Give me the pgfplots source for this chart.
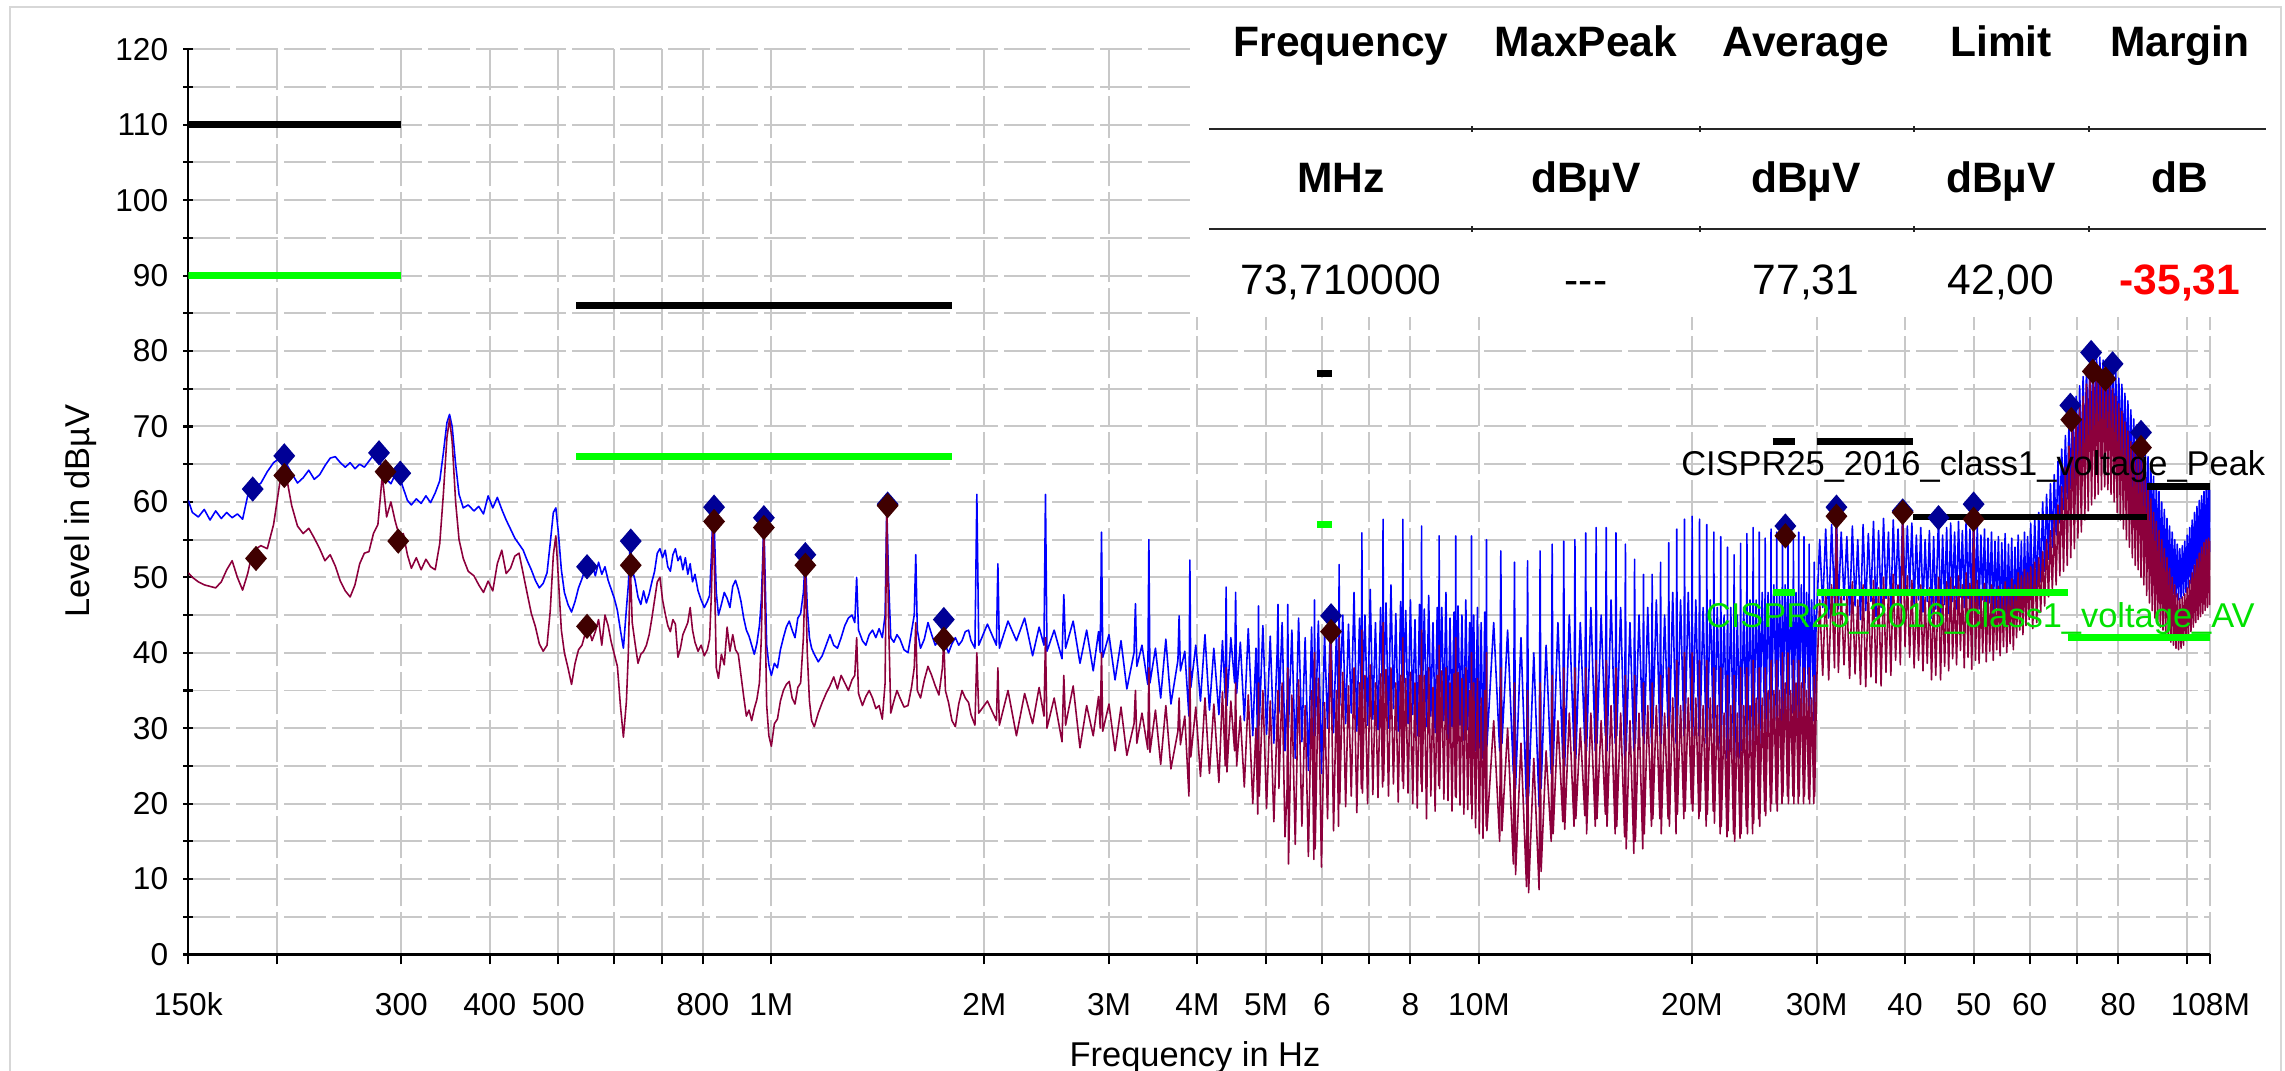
\documentclass[border=0pt]{standalone}
\usepackage{fontspec}
\setmainfont{Liberation Sans}
\usepackage{pgfplots}
\usepackage{pgfplotstable}
\pgfplotsset{compat=1.18}
\definecolor{trblue}{RGB}{0,0,255}
\definecolor{trred}{RGB}{140,0,60}
\definecolor{mkblue}{RGB}{0,0,150}
\definecolor{mkred}{RGB}{64,0,0}
\definecolor{limgreen}{RGB}{0,255,0}
\definecolor{txtgreen}{RGB}{0,225,0}
\definecolor{gridgray}{RGB}{200,200,200}
\definecolor{framegray}{RGB}{215,215,215}
\definecolor{margred}{RGB}{255,0,0}
\newcommand{\ticksize}{\fontsize{9pt}{10pt}\selectfont}
\newcommand{\labsize}{\fontsize{9.8pt}{11pt}\selectfont}
\newcommand{\tabsize}{\fontsize{12.1pt}{14pt}\selectfont}

\pgfplotstableread{
f pk av
0.150 60.2 50.6
0.152 58.6 50.0
0.155 58.0 49.4
0.158 59.0 49.0
0.161 57.6 48.8
0.164 58.8 48.6
0.167 57.8 49.4
0.170 58.6 51.0
0.173 57.9 52.2
0.176 58.4 50.0
0.179 57.7 48.3
0.182 60.8 50.5
0.185 61.6 53.5
0.190 62.5 54.2
0.194 64.0 53.8
0.198 65.2 57.0
0.202 65.8 62.5
0.206 65.2 63.8
0.210 63.8 59.5
0.214 62.5 56.8
0.218 63.2 55.8
0.222 64.2 56.5
0.226 63.0 55.2
0.230 63.6 53.8
0.234 64.8 52.2
0.238 65.8 53.0
0.242 66.0 51.5
0.246 65.2 49.5
0.250 64.6 48.2
0.254 65.2 47.4
0.258 64.4 49.0
0.262 65.0 51.8
0.266 64.6 53.2
0.270 65.4 53.4
0.274 66.2 55.8
0.278 66.0 57.0
0.282 64.5 63.5
0.286 63.0 58.0
0.290 62.4 60.0
0.294 63.6 57.5
0.298 63.4 55.5
0.302 61.8 55.8
0.306 60.2 53.0
0.310 59.6 51.2
0.315 60.4 52.6
0.320 59.8 51.0
0.325 60.8 52.4
0.330 59.9 51.4
0.335 61.2 51.0
0.340 62.8 54.5
0.344 66.5 61.0
0.348 70.5 68.5
0.351 71.6 71.0
0.354 70.0 68.0
0.358 65.0 60.0
0.362 61.0 55.0
0.367 59.2 52.5
0.373 59.6 50.8
0.380 58.8 50.2
0.386 59.4 49.0
0.392 58.4 48.0
0.398 60.8 49.5
0.404 59.2 48.2
0.410 60.6 51.8
0.416 59.0 53.6
0.422 57.6 50.5
0.428 56.4 51.2
0.434 55.2 52.8
0.440 54.4 53.2
0.446 53.6 50.5
0.452 52.2 47.8
0.458 51.0 45.2
0.464 49.6 43.5
0.470 48.6 41.2
0.476 49.2 40.2
0.482 50.6 41.0
0.487 54.5 45.5
0.492 58.6 53.0
0.496 59.2 55.5
0.500 56.0 50.0
0.505 51.0 43.0
0.510 48.0 40.0
0.516 46.4 38.0
0.522 45.4 35.8
0.528 46.8 38.6
0.534 48.6 40.4
0.540 49.8 41.0
0.546 51.2 42.6
0.552 50.6 43.2
0.558 51.8 41.6
0.564 50.2 42.8
0.570 52.0 44.4
0.576 50.4 41.0
0.582 51.4 45.0
0.588 49.6 43.6
0.594 48.4 41.4
0.600 47.2 39.8
0.606 45.6 38.2
0.612 43.0 33.0
0.618 40.6 28.8
0.624 45.8 33.5
0.628 49.0 40.0
0.632 55.0 51.6
0.636 51.0 44.0
0.642 49.6 41.2
0.648 47.4 38.6
0.654 46.4 39.8
0.660 48.2 40.2
0.666 46.6 41.0
0.672 47.8 42.4
0.678 49.4 44.6
0.684 50.8 47.0
0.690 53.2 49.4
0.696 53.8 50.0
0.702 52.6 47.0
0.708 53.6 45.2
0.714 51.4 43.6
0.720 50.8 42.8
0.726 53.0 44.4
0.732 53.8 43.8
0.738 52.2 39.4
0.744 52.8 40.6
0.750 51.0 42.4
0.756 52.6 43.2
0.762 50.4 44.0
0.768 51.8 46.0
0.774 49.4 43.0
0.780 50.4 41.4
0.788 48.2 40.2
0.796 47.0 41.0
0.804 46.0 39.6
0.812 46.8 40.4
0.818 47.6 41.8
0.823 53.0 48.0
0.827 59.2 57.2
0.831 56.0 51.0
0.836 48.0 38.0
0.842 45.0 36.6
0.850 46.4 39.8
0.858 48.0 38.4
0.866 47.2 43.4
0.874 46.0 40.2
0.882 48.8 42.4
0.890 49.6 40.4
0.898 48.4 39.8
0.906 46.8 37.0
0.914 44.6 34.2
0.922 43.0 31.6
0.930 42.2 32.4
0.938 41.0 31.0
0.946 39.8 32.6
0.954 41.2 33.8
0.962 43.6 36.0
0.968 47.0 42.0
0.972 52.0 50.0
0.976 57.8 56.4
0.980 50.0 45.0
0.985 41.0 33.0
0.992 38.4 29.0
1.000 37.0 27.6
1.010 38.6 30.6
1.020 38.0 31.2
1.030 40.4 33.6
1.040 42.0 35.0
1.050 43.4 35.8
1.060 44.2 36.2
1.070 43.0 34.0
1.080 42.0 33.2
1.090 44.6 35.4
1.100 45.2 36.0
1.110 48.0 42.0
1.117 53.0 51.4
1.124 46.0 40.0
1.132 42.0 33.6
1.140 40.6 31.0
1.150 39.8 30.2
1.165 38.8 32.0
1.180 39.6 33.4
1.195 41.0 34.6
1.210 42.4 35.6
1.225 41.0 36.8
1.240 40.6 35.2
1.255 42.0 37.0
1.270 43.6 36.0
1.285 44.6 35.0
1.300 45.0 36.4
1.312 44.0 37.0
1.320 50.0 42.0
1.328 43.0 34.6
1.345 41.6 33.0
1.360 41.0 34.2
1.375 42.4 35.0
1.390 43.0 34.0
1.405 42.0 32.6
1.420 43.2 33.0
1.435 42.0 31.2
1.448 45.0 36.0
1.456 59.6 59.4
1.464 50.0 45.0
1.475 42.0 32.0
1.490 41.4 33.6
1.505 42.4 35.0
1.520 41.8 34.0
1.540 40.4 32.8
1.560 40.0 33.0
1.578 42.8 35.4
1.592 45.0 38.0
1.600 53.0 44.0
1.608 43.0 35.0
1.625 40.6 34.0
1.645 41.8 36.4
1.665 44.0 38.2
1.685 42.4 37.0
1.705 41.0 35.6
1.725 41.8 34.4
1.745 43.4 38.0
1.753 44.4 41.8
1.762 41.0 35.0
1.780 40.0 33.4
1.800 41.2 31.0
1.820 42.0 30.2
1.840 41.0 33.2
1.860 41.6 35.0
1.880 42.8 34.0
1.900 43.0 33.4
1.915 41.6 31.8
1.940 40.6 30.4
1.952 61.0 40.0
1.964 41.0 32.0
2.020 43.8 33.6
2.080 41.0 31.0
2.090 51.8 38.0
2.100 40.6 30.4
2.160 44.2 35.0
2.220 41.6 29.0
2.280 44.6 34.6
2.340 39.6 30.6
2.390 43.4 35.4
2.428 41.0 31.6
2.440 61.0 42.0
2.452 40.2 30.0
2.510 43.0 34.0
2.575 39.2 28.2
2.590 47.7 37.0
2.605 40.6 30.4
2.670 44.2 35.6
2.730 38.6 27.4
2.790 43.0 33.0
2.850 37.6 29.0
2.900 42.8 34.2
2.916 40.0 30.0
2.928 56.0 40.0
2.940 39.4 29.6
3.000 42.4 33.2
3.060 36.4 27.0
3.120 41.6 32.8
3.180 35.2 26.4
3.255 40.0 30.6
3.270 46.5 35.0
3.285 38.2 28.0
3.340 41.0 32.0
3.404 35.8 27.2
3.416 55.0 38.0
3.428 36.0 26.8
3.490 40.6 32.4
3.550 34.0 25.2
3.610 41.8 33.0
3.670 33.2 24.6
3.755 39.0 29.6
3.770 44.9 34.0
3.785 37.6 27.8
3.840 40.2 31.6
3.892 31.6 21.0
3.904 52.3 38.0
3.916 35.4 26.2
3.980 41.0 32.8
4.040 33.6 23.6
4.100 42.4 34.0
4.160 32.4 24.0
4.220 40.6 33.2
4.290 31.8 22.8
4.340 41.6 34.8
4.380 34.0 25.0
4.392 48.7 38.0
4.404 33.0 24.2
4.460 42.0 33.6
4.515 36.0 27.0
4.530 48.0 36.0
4.545 34.6 25.0
4.600 41.4 31.6
4.660 31.0 22.2
4.720 43.2 34.4
4.790 29.0 20.0
4.840 40.6 30.0
4.868 26.0 18.6
4.880 46.2 36.0
4.892 30.4 21.0
4.950 43.6 35.0
5.010 29.2 19.4
5.070 42.2 33.6
5.130 28.0 17.6
5.185 40.0 31.0
5.200 46.4 35.0
5.215 32.0 22.0
5.270 44.0 36.0
5.320 27.0 15.6
5.356 34.0 22.0
5.368 46.4 38.0
5.380 30.0 12.0
5.440 43.0 34.4
5.500 26.0 14.6
5.560 44.6 36.4
5.620 28.2 17.0
5.680 42.0 33.0
5.740 24.4 13.0
5.800 43.4 35.0
5.844 26.8 12.6
5.856 47.0 40.0
5.868 29.0 14.0
5.930 44.2 36.6
5.990 24.0 11.6
6.050 42.6 33.4
6.110 30.0 18.0
6.170 44.9 42.6
6.230 29.4 16.4
6.290 43.0 35.0
6.332 31.0 17.0
6.344 51.7 42.0
6.356 33.0 20.0
6.420 45.0 37.4
6.480 30.6 19.6
6.540 43.8 35.6
6.600 32.0 21.0
6.660 48.0 38.0
6.720 29.6 18.8
6.780 44.6 36.0
6.820 33.0 22.0
6.832 55.9 43.0
6.844 32.6 21.4
6.900 45.0 37.0
6.960 30.4 20.0
7.020 48.4 38.4
7.080 31.2 21.2
7.140 44.0 36.0
7.200 29.8 20.8
7.260 46.0 37.2
7.308 33.4 22.2
7.320 57.7 44.0
7.332 34.0 23.0
7.390 46.6 37.8
7.450 30.0 21.0
7.510 49.0 38.0
7.570 32.6 22.6
7.630 45.2 36.0
7.690 29.6 20.2
7.750 46.8 37.0
7.796 34.0 23.0
7.808 57.7 42.0
7.820 33.0 22.0
7.880 45.6 36.6
7.940 30.6 21.4
8.000 47.0 37.4
8.060 31.8 20.0
8.120 44.4 36.0
8.180 29.0 19.4
8.240 46.4 37.0
8.284 33.2 22.6
8.296 56.8 43.0
8.308 32.0 21.6
8.370 45.8 37.0
8.430 30.2 18.0
8.490 47.6 38.0
8.550 31.6 21.0
8.610 44.0 35.4
8.670 29.4 19.0
8.730 46.0 37.0
8.772 33.0 22.4
8.784 55.5 41.0
8.796 32.4 22.0
8.860 46.0 37.6
8.920 31.0 20.6
8.980 48.0 38.0
9.040 28.6 20.4
9.100 44.6 36.0
9.160 30.2 19.0
9.220 45.4 37.2
9.260 32.0 21.0
9.272 55.5 42.0
9.284 31.0 20.8
9.340 46.2 37.4
9.400 30.4 19.8
9.460 45.0 36.6
9.520 28.4 18.6
9.580 47.0 38.0
9.640 29.8 19.2
9.700 44.0 35.0
9.748 30.6 20.0
9.760 55.5 40.0
9.772 29.0 18.0
9.830 45.0 36.0
9.890 27.0 16.8
9.950 46.0 36.6
10.010 27.4 16.0
10.070 44.0 34.0
10.130 26.0 15.4
10.190 45.4 35.0
10.236 28.0 17.0
10.248 55.0 40.0
10.260 27.6 16.4
10.490 44.0 31.0
10.696 27.0 15.0
10.736 53.5 38.0
10.776 28.0 16.4
10.976 43.0 30.0
11.184 24.0 12.0
11.224 52.0 36.0
11.264 22.0 10.6
11.464 42.0 28.0
11.672 20.0 9.0
11.712 52.2 35.0
11.752 21.0 8.2
11.952 40.0 26.0
12.160 19.6 8.6
12.200 53.5 36.0
12.240 22.0 11.0
12.440 41.0 27.0
12.648 24.0 15.0
12.688 54.4 37.0
12.728 25.0 16.0
12.928 44.0 31.0
13.136 26.0 17.6
13.176 54.8 38.0
13.216 25.0 16.6
13.416 45.0 32.0
13.624 27.0 17.0
13.664 55.0 38.0
13.704 26.0 18.0
13.904 44.0 30.0
14.112 28.0 18.4
14.152 55.9 38.0
14.192 27.0 16.0
14.392 46.0 32.0
14.600 27.0 17.0
14.640 56.6 39.0
14.680 28.0 18.0
14.880 45.0 31.0
15.088 29.0 18.6
15.128 56.6 39.0
15.168 27.0 17.0
15.368 47.0 33.0
15.576 28.0 16.0
15.616 55.9 38.0
15.656 29.0 17.0
15.856 46.0 32.0
16.064 26.0 15.6
16.104 54.4 37.0
16.144 27.0 14.0
16.344 44.0 31.0
16.552 27.0 13.4
16.592 52.4 37.0
16.632 28.0 15.0
16.832 45.0 32.0
17.040 29.0 14.0
17.080 50.4 36.0
17.120 28.0 16.0
17.320 46.0 33.0
17.528 28.0 17.0
17.568 50.4 36.0
17.608 30.0 18.0
17.808 47.0 33.0
18.016 29.0 18.0
18.056 52.0 37.0
18.096 28.0 16.0
18.296 45.0 32.0
18.504 30.0 18.0
18.544 54.6 38.0
18.584 29.0 17.0
18.784 48.0 34.0
18.992 28.0 16.0
19.032 56.4 39.0
19.072 30.0 18.6
19.272 47.0 33.0
19.480 29.0 18.0
19.520 57.7 40.0
19.560 30.0 19.0
19.760 48.0 34.0
19.968 30.0 20.0
20.008 58.1 40.0
20.048 29.0 19.0
20.248 47.0 34.0
20.456 29.0 18.0
20.496 57.7 39.0
20.536 30.0 19.0
20.736 46.0 33.0
20.944 28.0 17.0
20.984 57.0 39.0
21.024 29.0 18.6
21.224 47.0 34.0
21.432 30.0 19.0
21.472 56.0 38.0
21.512 28.0 17.4
21.712 46.0 33.0
21.920 27.0 16.0
21.960 55.4 38.0
22.000 28.0 17.0
22.200 45.0 32.0
22.408 26.0 15.6
22.448 54.0 37.0
22.488 27.0 16.4
22.688 46.0 33.0
22.896 27.0 16.0
22.936 53.0 37.0
22.976 26.0 15.0
23.176 45.0 32.0
23.384 26.0 15.4
23.424 54.5 38.0
23.464 27.0 16.0
23.664 46.0 33.0
23.872 28.0 17.0
23.912 55.8 38.0
23.952 27.0 16.0
24.152 47.0 33.0
24.360 27.0 16.0
24.400 56.6 39.0
24.440 28.0 17.4
24.640 47.0 34.0
24.848 29.0 18.0
24.888 56.0 38.0
24.928 28.0 17.0
25.128 48.0 34.0
25.336 30.0 19.0
25.376 55.2 38.0
25.416 29.0 18.4
25.616 48.0 35.0
25.824 30.0 19.0
25.864 56.4 39.0
25.904 31.0 20.0
26.104 49.0 35.0
26.312 31.0 20.0
26.352 56.0 39.0
26.392 30.0 19.0
26.592 48.0 35.0
26.800 30.0 20.0
26.840 56.8 40.0
26.880 31.0 21.0
27.080 49.0 36.0
27.288 31.0 21.0
27.328 56.8 40.0
27.368 30.0 20.0
27.568 48.0 35.0
27.776 32.0 21.0
27.816 55.6 39.0
27.856 31.0 20.0
28.056 48.0 36.0
28.264 31.0 20.0
28.304 56.0 39.0
28.344 32.0 21.0
28.544 49.0 36.0
28.752 31.0 20.0
28.792 55.4 38.0
28.832 32.0 21.0
29.032 48.0 35.0
29.240 32.0 20.6
29.280 54.4 38.0
29.320 31.0 20.0
29.520 47.0 34.0
29.728 31.0 20.0
29.768 52.0 37.0
29.808 32.0 21.0
29.960 45.0 33.0
30.000 45.0 36.0
30.300 55.0 47.0
30.600 46.0 37.0
30.900 56.4 48.4
31.200 44.6 36.4
31.500 57.0 49.0
31.800 46.4 38.0
32.000 59.3 58.1
32.200 45.8 37.4
32.500 56.0 48.0
32.800 47.0 38.4
33.100 55.4 47.6
33.400 45.0 36.6
33.700 56.8 49.4
34.000 46.2 37.2
34.300 55.0 47.0
34.600 44.4 35.8
34.900 57.0 49.0
35.200 45.6 35.5
35.500 55.8 48.2
35.800 46.8 36.8
36.100 57.4 49.6
36.400 44.8 36.0
36.700 56.2 48.6
37.000 46.0 35.6
37.300 57.8 50.0
37.600 47.2 37.4
37.900 56.0 48.4
38.200 45.4 37.0
38.500 57.6 50.4
38.800 47.8 39.0
39.100 56.4 49.0
39.400 46.6 38.4
39.700 58.8 58.6
40.000 47.6 40.8
40.300 56.8 50.2
40.600 48.4 39.4
40.900 57.2 49.6
41.200 46.2 38.0
41.500 55.6 48.0
41.800 47.0 39.0
42.100 56.6 49.0
42.400 45.4 37.6
42.700 55.0 47.4
43.000 46.8 38.6
43.300 56.2 48.6
43.600 44.6 36.4
43.900 55.4 47.8
44.200 45.8 37.0
44.600 57.9 50.0
44.900 44.0 36.4
45.200 55.6 48.2
45.500 46.4 38.2
45.800 56.6 49.4
46.100 45.2 37.6
46.400 57.2 50.0
46.700 46.8 39.2
47.000 56.0 48.8
47.300 45.8 38.4
47.600 57.4 50.2
47.900 47.4 40.3
48.200 56.2 49.0
48.500 46.0 38.0
48.800 57.8 50.6
49.100 47.2 39.4
49.400 56.4 49.2
49.700 45.6 37.8
50.000 59.7 57.7
50.300 46.4 39.0
50.600 56.8 49.6
50.900 45.8 38.6
51.200 55.6 48.4
51.500 47.0 40.0
51.800 56.4 49.2
52.100 45.4 38.8
52.400 55.2 48.0
52.700 46.6 40.2
53.000 56.0 49.0
53.300 44.8 39.0
53.600 54.8 48.2
53.900 46.0 40.4
54.200 55.4 48.8
54.500 44.2 39.6
54.800 54.6 48.0
55.100 45.4 40.8
55.400 55.8 49.4
55.700 43.6 40.0
56.000 54.4 48.6
56.300 44.8 41.2
56.600 55.2 49.8
56.900 43.0 40.4
57.200 54.0 49.0
57.500 44.4 42.0
57.800 55.6 50.6
58.100 45.0 43.0
58.400 54.8 50.2
58.700 44.2 42.4
59.000 56.0 51.0
59.300 45.6 43.6
59.600 55.4 50.6
59.900 46.4 44.4
60.200 57.2 51.4
60.600 46.4 43.2
61.000 58.0 52.0
61.400 47.6 44.0
61.800 58.6 52.6
62.200 49.4 45.4
62.600 60.0 53.4
63.000 50.8 46.2
63.400 61.0 55.0
63.800 52.4 47.4
64.200 62.4 56.2
64.600 54.0 48.4
65.000 63.6 57.6
65.400 55.6 49.0
65.800 65.4 59.6
66.200 57.2 50.2
66.600 67.0 62.0
67.000 59.0 50.8
67.400 68.8 64.6
67.800 60.4 51.6
68.200 70.6 67.4
68.600 61.8 52.6
69.000 72.6 70.0
69.400 62.8 53.8
69.800 74.0 71.6
70.200 64.2 55.2
70.600 75.4 72.8
71.000 65.0 56.0
71.400 76.6 74.0
71.800 66.4 57.6
72.200 77.8 75.6
72.600 67.6 58.8
73.000 79.0 76.6
73.400 68.4 59.6
73.800 79.6 77.2
74.200 69.2 60.4
74.600 79.4 77.0
75.000 70.0 61.0
75.400 79.2 76.8
75.800 70.4 61.6
76.200 78.8 76.4
76.600 70.2 62.0
77.000 78.6 76.0
77.400 69.8 61.6
77.800 78.4 75.4
78.200 69.4 61.0
78.600 78.0 75.0
79.000 68.6 60.0
79.400 77.2 74.0
79.800 67.6 58.6
80.200 76.4 73.0
80.600 66.6 57.6
81.000 75.6 72.0
81.400 65.2 56.4
81.800 74.4 70.6
82.200 64.0 55.0
82.600 73.4 69.4
83.000 62.8 54.0
83.400 72.2 68.0
83.800 61.6 52.6
84.200 71.0 67.0
84.600 60.4 51.6
85.000 70.2 66.6
85.400 59.4 51.0
85.800 69.4 66.8
86.200 58.0 50.0
86.600 68.6 65.6
87.000 56.8 49.0
87.400 67.0 63.6
87.800 55.4 47.6
88.200 66.0 62.0
88.600 54.2 46.6
89.000 64.8 60.4
89.400 53.0 45.6
89.800 63.4 58.6
90.200 52.2 44.6
90.600 62.4 57.4
91.000 51.4 44.0
91.400 61.4 56.2
91.800 50.6 43.4
92.200 60.0 55.0
92.600 50.0 43.0
93.000 59.0 53.8
93.400 49.4 42.4
93.800 57.8 52.6
94.200 48.8 41.8
94.600 56.8 51.2
95.000 48.2 41.4
95.400 56.0 50.0
95.800 47.8 41.0
96.200 55.0 49.0
96.600 47.4 40.6
97.000 54.4 47.8
97.400 47.0 40.4
97.800 53.8 47.2
98.200 47.2 40.6
98.600 54.2 47.4
99.000 47.6 41.0
99.400 54.8 47.8
99.800 48.0 41.6
100.200 55.6 48.6
100.600 48.6 42.2
101.000 56.6 49.6
101.400 49.2 42.8
101.800 57.6 50.6
102.200 49.8 43.4
102.600 58.6 51.6
103.000 50.4 44.0
103.400 59.4 52.4
103.800 51.0 44.4
104.200 60.2 53.2
104.600 51.4 44.8
105.000 60.8 54.0
105.400 51.8 45.2
105.800 61.4 54.6
106.200 52.2 45.6
106.600 61.8 55.0
107.000 52.8 46.0
107.400 62.2 55.2
107.800 53.4 46.4
108.000 61.6 54.8
}\trace

\pgfplotstableread{
f y
0.185 61.7
0.205 66.1
0.279 66.5
0.299 63.8
0.549 51.4
0.633 54.8
0.830 59.3
0.976 57.9
1.117 53.0
1.460 59.7
1.753 44.4
6.180 44.9
27.10 56.8
32.00 59.3
39.70 58.8
44.60 57.9
50.00 59.7
68.50 72.8
73.30 79.8
78.60 78.3
86.20 69.2
}\pkmarks

\pgfplotstableread{
f y
0.187 52.5
0.205 63.5
0.285 64.0
0.297 54.8
0.549 43.5
0.633 51.6
0.830 57.4
0.976 56.6
1.117 51.6
1.460 59.5
1.753 41.8
6.180 42.8
27.10 55.5
32.00 58.1
39.70 58.6
50.00 57.7
68.70 70.9
73.71 77.3
76.80 76.3
86.20 67.2
}\avmarks

\begin{document}
\begin{tikzpicture}
\useasboundingbox (0,0) rectangle (22.85,10.71);
\begin{axis}[
  at={(1.883cm,1.165cm)}, anchor=south west,
  scale only axis, width=20.22cm, height=9.052cm,
  xmode=log, xmin=0.15, xmax=108, ymin=0, ymax=120,
  axis lines*=left,
  axis line style={black, line width=0.6pt},
  xtick={0.15,0.2,0.3,0.4,0.5,0.6,0.7,0.8,1,2,3,4,5,6,7,8,10,20,30,40,50,60,70,80,100,108},
  xticklabels={150k,,300,400,500,,,800,1M,2M,3M,4M,5M,6,,8,10M,20M,30M,40,50,60,,80,,108M},
  ytick={0,10,20,30,40,50,60,70,80,90,100,110,120},
  yticklabels={0,10,20,30,40,50,60,70,80,90,100,110,120},
  minor ytick={5,15,25,35,45,55,65,75,85,95,105,115},
  grid=both,
  major grid style={gridgray, line width=0.55pt, dash pattern=on 0.42cm off 0.06cm},
  minor grid style={gridgray, line width=0.55pt, dash pattern=on 0.42cm off 0.06cm},
  xtick align=outside, ytick align=center,
  major tick length=0.1cm, minor tick length=0.1cm,
  tick style={black, line width=0.6pt},
  xticklabel style={font=\ticksize, anchor=base, yshift=-0.515cm},
  yticklabel style={font=\ticksize, anchor=east, inner sep=0pt, xshift=-0.145cm},
]
\addplot[trblue, line width=0.45pt, line join=round] table[x=f,y=pk] {\trace};
\addplot[trred, line width=0.45pt, line join=round] table[x=f,y=av] {\trace};
% peak limits
\addplot[black, line width=1.9pt] coordinates {(0.15,110) (0.3,110)};
\addplot[black, line width=1.9pt] coordinates {(0.53,86) (1.8,86)};
\addplot[black, line width=1.9pt] coordinates {(5.9,77) (6.2,77)};
\addplot[black, line width=1.9pt] coordinates {(26,68) (28,68)};
\addplot[black, line width=1.9pt] coordinates {(30,68) (41,68)};
\addplot[black, line width=1.9pt] coordinates {(41,58) (88,58)};
\addplot[black, line width=1.9pt] coordinates {(88,62) (108,62)};
% average limits
\addplot[limgreen, line width=1.9pt] coordinates {(0.15,90) (0.3,90)};
\addplot[limgreen, line width=1.9pt] coordinates {(0.53,66) (1.8,66)};
\addplot[limgreen, line width=1.9pt] coordinates {(5.9,57) (6.2,57)};
\addplot[limgreen, line width=1.9pt] coordinates {(26,48) (28,48)};
\addplot[limgreen, line width=1.9pt] coordinates {(30,48) (68,48)};
\addplot[limgreen, line width=1.9pt] coordinates {(68,42) (108,42)};
% markers
\addplot[only marks, mark=diamond*, mark size=3.3pt, mark options={draw=mkblue, fill=mkblue, xscale=1.15}] table[x=f,y=y] {\pkmarks};
\addplot[only marks, mark=diamond*, mark size=3.3pt, mark options={draw=mkred, fill=mkred, xscale=1.15}] table[x=f,y=y] {\avmarks};
\end{axis}
% limit labels
\node[anchor=base east, inner sep=0pt, font=\labsize, text=black] at (22.66,5.95) {CISPR25\_2016\_class1\_voltage\_Peak};
\node[anchor=base east, inner sep=0pt, font=\labsize, text=txtgreen] at (22.555,4.435) {CISPR25\_2016\_class1\_voltage\_AV};
% axis titles
\node[rotate=90, anchor=center, inner sep=0pt, font=\labsize] at (0.81,5.60) {Level in dBµV};
\node[anchor=base, inner sep=0pt, font=\labsize] at (11.95,0.04) {Frequency in Hz};
% table
\fill[white] (11.95,7.54) rectangle (22.75,10.70);
\draw[black!85, line width=0.55pt] (12.09,9.42) -- (22.66,9.42);
\draw[black!85, line width=0.55pt] (12.09,8.42) -- (22.66,8.42);
\foreach \cx in {14.72,17.00,19.14,20.89} {
  \draw[black!85, line width=0.4pt] (\cx,9.39) -- (\cx,9.45);
  \draw[black!85, line width=0.4pt] (\cx,8.39) -- (\cx,8.45);
}
\begin{scope}[every node/.style={anchor=base, inner sep=0pt, font=\tabsize}]
\node[font=\tabsize\bfseries] at (13.41,10.14) {Frequency};
\node[font=\tabsize\bfseries] at (15.86,10.14) {MaxPeak};
\node[font=\tabsize\bfseries] at (18.06,10.14) {Average};
\node[font=\tabsize\bfseries] at (20.01,10.14) {Limit};
\node[font=\tabsize\bfseries] at (21.80,10.14) {Margin};
\node[font=\tabsize\bfseries] at (13.41,8.78) {MHz};
\node[font=\tabsize\bfseries] at (15.86,8.78) {dBµV};
\node[font=\tabsize\bfseries] at (18.06,8.78) {dBµV};
\node[font=\tabsize\bfseries] at (20.01,8.78) {dBµV};
\node[font=\tabsize\bfseries] at (21.80,8.78) {dB};
\node at (13.41,7.76) {73,710000};
\node at (15.86,7.76) {-{}-{}-};
\node at (18.06,7.76) {77,31};
\node at (20.01,7.76) {42,00};
\node[font=\tabsize\bfseries, text=margred] at (21.80,7.76) {-35,31};
\end{scope}
% frame
\draw[framegray, line width=0.6pt] (0.10,-0.5) -- (0.10,10.64) -- (22.81,10.64) -- (22.81,-0.5);
\end{tikzpicture}
\end{document}
